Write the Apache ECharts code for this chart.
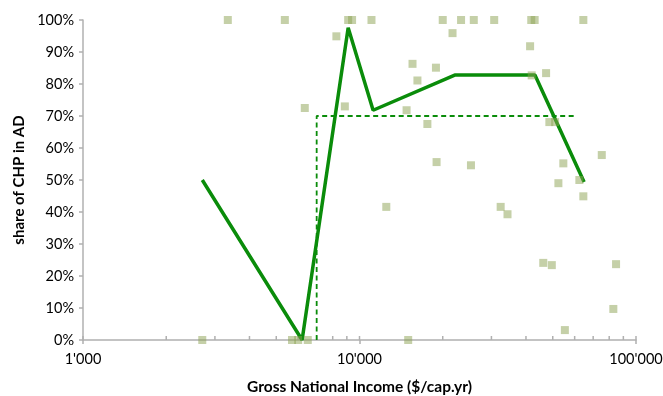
<!DOCTYPE html>
<html>
<head>
<meta charset="utf-8">
<style>
  html, body { margin: 0; padding: 0; background: #fff; }
  #chart { width: 663px; height: 396px; }
</style>
<script src="https://cdn.jsdelivr.net/npm/echarts@6/dist/echarts.min.js"></script>
</head>
<body>
<div id="chart"></div>
<script>
// Country observations: GNI per capita ($/cap.yr) and share of CHP in AD (%)
const countryGNI = [
  2700, 5700, 6000, 6500, 15000,
  3340, 5370, 9100, 9400, 11050, 20000, 23300, 25900, 30700, 41800, 43000, 64500,
  8250, 21700, 41400, 15550, 18900, 16200, 41950, 47300, 8850, 6340, 14800,
  17600, 48600, 51000, 19000, 25300, 75200, 54600, 52400, 62400, 64500,
  12500, 32400, 34300, 46200, 49600, 84700, 82800, 55300
];
const countryShare = [
  0, 0, 0, 0, 0,
  100, 100, 100, 100, 100, 100, 100, 100, 100, 100, 100, 100,
  94.9, 95.9, 91.8, 86.3, 85.1, 81.1, 82.7, 83.4, 73.0, 72.5, 71.8,
  67.5, 68.1, 68.1, 55.6, 54.6, 57.8, 55.2, 49.0, 50.0, 44.9,
  41.6, 41.6, 39.3, 24.1, 23.4, 23.7, 9.7, 3.1
];

// Trend through income classes
const trendGNI = [2700, 6200, 9100, 11200, 22100, 43100, 64900];
const trendShare = [50, 0, 97.6, 71.8, 82.8, 82.8, 49.4];

// Step threshold line
const stepGNI = [7000, 7000, 60000];
const stepShare = [0, 70, 70];

// Axis ticks
const xMajorTicks = [1000, 10000, 100000];
const xMinorTicks = [2000, 3000, 4000, 5000, 6000, 7000, 8000, 9000,
                     20000, 30000, 40000, 50000, 60000, 70000, 80000, 90000];

const GREEN = '#0a8c0a';
const AXIS = '#b0b0b0';
const FONT = 'Lato, "Open Sans", sans-serif';

const zip = (xs, ys) => xs.map((x, i) => [x, ys[i]]);
const fmtThousands = v => String(Math.round(v)).replace(/\B(?=(\d{3})+(?!\d))/g, "'");

const chart = echarts.init(document.getElementById('chart'));
chart.setOption({
  animation: false,
  backgroundColor: '#fff',
  grid: { left: 83, right: 27, top: 20, bottom: 56, outerBoundsMode: 'none', containLabel: false },
  xAxis: {
    type: 'log',
    logBase: 10,
    min: 1000,
    max: 100000,
    name: 'Gross National Income ($/cap.yr)',
    nameLocation: 'middle',
    nameGap: 39,
    nameTextStyle: { fontFamily: FONT, fontSize: 15.5, fontWeight: 'bold', color: '#000' },
    axisLine: { lineStyle: { color: AXIS, width: 1.5 } },
    axisTick: { show: true, length: 4, lineStyle: { color: AXIS, width: 1.5 } },
    axisLabel: { fontFamily: FONT, fontSize: 14.5, color: '#000', margin: 12, formatter: fmtThousands },
    splitLine: { show: false }
  },
  yAxis: {
    type: 'value',
    min: 0,
    max: 100,
    interval: 10,
    name: 'share of CHP in AD',
    nameLocation: 'middle',
    nameGap: 55,
    nameTextStyle: { fontFamily: FONT, fontSize: 15, fontWeight: 'bold', color: '#000' },
    axisLine: { show: true, lineStyle: { color: AXIS, width: 1.5 } },
    axisTick: { show: true, length: 4, lineStyle: { color: AXIS, width: 1.5 } },
    axisLabel: { fontFamily: FONT, fontSize: 14.5, color: '#000', margin: 9, formatter: '{value}%' },
    splitLine: { show: false }
  },
  series: [
    {
      // inward tick marks along the x axis
      type: 'custom',
      silent: true,
      z: 1,
      data: xMajorTicks.concat(xMinorTicks).map(v => [v, 0]),
      renderItem: (params, api) => {
        const p = api.coord([api.value(0), api.value(1)]);
        return {
          type: 'line',
          shape: { x1: p[0], y1: p[1], x2: p[0], y2: p[1] - 4 },
          style: { stroke: AXIS, lineWidth: 1.5 }
        };
      }
    },
    {
      type: 'line',
      data: zip(stepGNI, stepShare),
      symbol: 'none',
      z: 2,
      lineStyle: { color: GREEN, width: 1.8, type: [5, 3.5] }
    },
    {
      type: 'line',
      data: zip(trendGNI, trendShare),
      symbol: 'none',
      z: 3,
      lineStyle: { color: GREEN, width: 3.5 }
    },
    {
      type: 'scatter',
      data: zip(countryGNI, countryShare),
      symbol: 'rect',
      symbolSize: 8,
      z: 4,
      itemStyle: { color: 'rgb(139,161,81)', opacity: 0.5 }
    }
  ]
});
</script>
</body>
</html>
